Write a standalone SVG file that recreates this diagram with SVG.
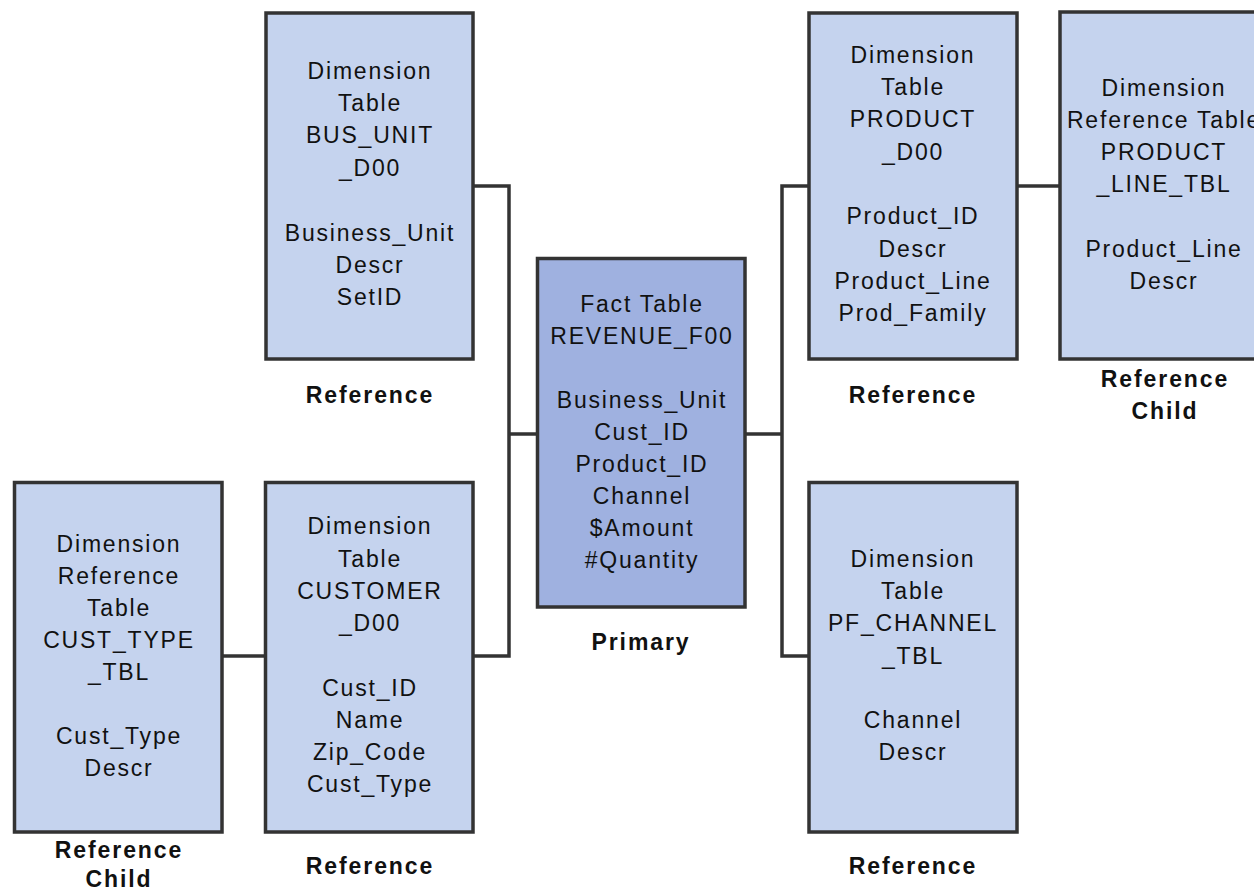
<svg xmlns="http://www.w3.org/2000/svg" width="1254" height="892" viewBox="0 0 1254 892">
<style>
.box{fill:#C5D3EE;stroke:#333;stroke-width:3.5}
.fact{fill:#9FB1E0;stroke:#333;stroke-width:3.5}
.t{font-family:"Liberation Sans",Arial,sans-serif;font-size:23px;letter-spacing:1.8px;fill:#111;text-anchor:middle}
.lb{font-family:"Liberation Sans",Arial,sans-serif;font-size:23px;font-weight:bold;letter-spacing:1.9px;fill:#111;text-anchor:middle}
.c{fill:none;stroke:#333;stroke-width:3.5}
</style>
<rect width="1254" height="892" fill="#fff"/>
<g id="connectors">
<path class="c" d="M473 186 H509 V656 H473 M509 434 H537"/>
<path class="c" d="M745 434 H782 M809 186 H782 V656 H809"/>
<path class="c" d="M1017 186 H1060"/>
<path class="c" d="M222 656 H265"/>
</g>
<g id="bus_unit">
<rect class="box" x="266" y="13" width="207" height="346"/>
<text class="t" x="370" y="79">Dimension</text>
<text class="t" x="370" y="111">Table</text>
<text class="t" x="370" y="143">BUS_UNIT</text>
<text class="t" x="370" y="176">_D00</text>
<text class="t" x="370" y="241">Business_Unit</text>
<text class="t" x="370" y="273">Descr</text>
<text class="t" x="370" y="305">SetID</text>
<text class="lb" x="370" y="403">Reference</text>
</g>
<g id="fact">
<rect class="fact" x="537.5" y="258.5" width="207.5" height="348.5"/>
<text class="t" x="642" y="312">Fact Table</text>
<text class="t" x="642" y="344">REVENUE_F00</text>
<text class="t" x="642" y="408">Business_Unit</text>
<text class="t" x="642" y="440">Cust_ID</text>
<text class="t" x="642" y="472">Product_ID</text>
<text class="t" x="642" y="504">Channel</text>
<text class="t" x="642" y="536">$Amount</text>
<text class="t" x="642" y="568">#Quantity</text>
<text class="lb" x="641" y="650">Primary</text>
</g>
<g id="product">
<rect class="box" x="809" y="13" width="208" height="346"/>
<text class="t" x="913" y="63">Dimension</text>
<text class="t" x="913" y="95">Table</text>
<text class="t" x="913" y="127">PRODUCT</text>
<text class="t" x="913" y="160">_D00</text>
<text class="t" x="913" y="224">Product_ID</text>
<text class="t" x="913" y="257">Descr</text>
<text class="t" x="913" y="289">Product_Line</text>
<text class="t" x="913" y="321">Prod_Family</text>
<text class="lb" x="913" y="403">Reference</text>
</g>
<g id="product_line">
<rect class="box" x="1060" y="12" width="210" height="347"/>
<text class="t" x="1164" y="96">Dimension</text>
<text class="t" x="1164" y="128">Reference Table</text>
<text class="t" x="1164" y="160">PRODUCT</text>
<text class="t" x="1164" y="192">_LINE_TBL</text>
<text class="t" x="1164" y="257">Product_Line</text>
<text class="t" x="1164" y="289">Descr</text>
<text class="lb" x="1165" y="387">Reference</text>
<text class="lb" x="1165" y="419">Child</text>
</g>
<g id="cust_type">
<rect class="box" x="14.5" y="482.5" width="207.5" height="349.5"/>
<text class="t" x="119" y="552">Dimension</text>
<text class="t" x="119" y="584">Reference</text>
<text class="t" x="119" y="616">Table</text>
<text class="t" x="119" y="648">CUST_TYPE</text>
<text class="t" x="119" y="680">_TBL</text>
<text class="t" x="119" y="744">Cust_Type</text>
<text class="t" x="119" y="776">Descr</text>
<text class="lb" x="119" y="858">Reference</text>
<text class="lb" x="119" y="887">Child</text>
</g>
<g id="customer">
<rect class="box" x="265.5" y="482.5" width="207.5" height="349.5"/>
<text class="t" x="370" y="534">Dimension</text>
<text class="t" x="370" y="567">Table</text>
<text class="t" x="370" y="599">CUSTOMER</text>
<text class="t" x="370" y="631">_D00</text>
<text class="t" x="370" y="696">Cust_ID</text>
<text class="t" x="370" y="728">Name</text>
<text class="t" x="370" y="760">Zip_Code</text>
<text class="t" x="370" y="792">Cust_Type</text>
<text class="lb" x="370" y="874">Reference</text>
</g>
<g id="pf_channel">
<rect class="box" x="809" y="482.5" width="208" height="349.5"/>
<text class="t" x="913" y="567">Dimension</text>
<text class="t" x="913" y="599">Table</text>
<text class="t" x="913" y="631">PF_CHANNEL</text>
<text class="t" x="913" y="664">_TBL</text>
<text class="t" x="913" y="728">Channel</text>
<text class="t" x="913" y="760">Descr</text>
<text class="lb" x="913" y="874">Reference</text>
</g>
</svg>
